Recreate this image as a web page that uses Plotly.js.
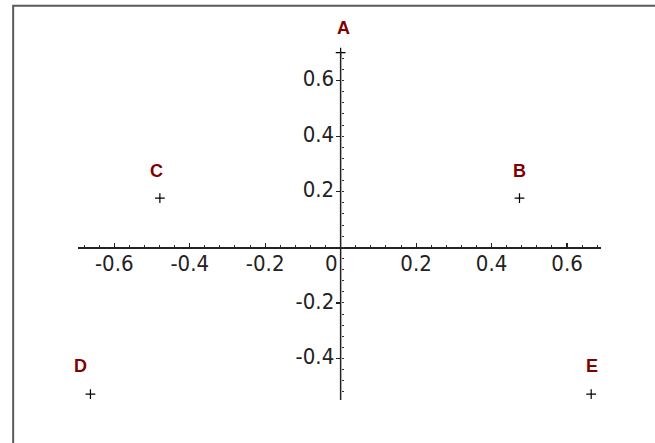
<!DOCTYPE html>
<html>
<head>
<meta charset="utf-8">
<script src="https://cdn.plot.ly/plotly-3.0.1.min.js"></script>
<style>html,body{margin:0;padding:0;background:#fff;}#chart{width:655px;height:443px;}</style>
</head>
<body>
<div id="chart"></div>
<script>
// Point names and positions
const pointNames = ['A', 'B', 'C', 'D', 'E'];
const pointX = [0, 0.474, -0.479, -0.663, 0.664];
const pointY = [0.70, 0.177, 0.177, -0.528, -0.528];
// Where each name label sits
const labelX = [0.007, 0.474, -0.487, -0.69, 0.667];
const labelY = [0.788, 0.276, 0.276, -0.426, -0.426];
// Axis ticks
const xTickVals = [-0.6, -0.4, -0.2, 0, 0.2, 0.4, 0.6];
const xTickText = ['-0.6', '-0.4', '-0.2', '0\u00a0\u00a0\u00a0', '0.2', '0.4', '0.6'];
const yTickVals = [-0.4, -0.2, 0.2, 0.4, 0.6];
const yTickText = ['-0.4', '-0.2', '0.2', '0.4', '0.6'];
const minorStep = 0.04;
// Extent of the drawn axes
const xAxisExtent = [-0.696, 0.690];
const yAxisExtent = [-0.549, 0.704];
// Plot view (leaves room for the top label)
const xRange = [-0.696, 0.690];
const yRange = [-0.549, 0.85];

function minorTicks(extent) {
  const out = [];
  const start = Math.ceil(extent[0] / minorStep - 1e-9);
  const end = Math.floor(extent[1] / minorStep + 1e-9);
  for (let k = start; k <= end; k++) out.push(+(k * minorStep).toFixed(4));
  return out;
}

const tickFont = {family: '"Liberation Sans Narrow", "DejaVu Sans Condensed", "Arial Narrow", sans-serif', size: 22, color: '#222'};
const nameFont = {family: '"Liberation Sans", Arial, sans-serif', size: 18, color: '#800000', weight: 'bold'};

const traces = [
  {
    type: 'scatter', mode: 'markers',
    x: pointX, y: pointY,
    marker: {symbol: 'cross-thin', size: 7, color: '#000', line: {color: '#000', width: 1.2}},
    cliponaxis: false, hoverinfo: 'skip', showlegend: false
  }
];

const annotations = pointNames.map((name, i) => ({
  x: labelX[i], y: labelY[i], xref: 'x', yref: 'y',
  text: '<b>' + name + '</b>', showarrow: false,
  xanchor: 'center', yanchor: 'middle', font: nameFont
}));

const xPos = (0 - yRange[0]) / (yRange[1] - yRange[0]);
const yPos = (0 - xRange[0]) / (xRange[1] - xRange[0]);

// plot area: 278 px per y unit
const pxPerY = 278;
const plotBottom = 400;
const topMargin = plotBottom - (yRange[1] - yRange[0]) * pxPerY;

const layout = {
  width: 655, height: 443,
  margin: {l: 78.3, r: 54, t: topMargin, b: 443 - plotBottom, pad: 0},
  paper_bgcolor: '#fff', plot_bgcolor: 'rgba(0,0,0,0)',
  showlegend: false,
  xaxis: {
    range: xRange, anchor: 'free', position: xPos, side: 'bottom',
    showgrid: false, zeroline: false, showline: true, linecolor: '#222', linewidth: 1.5,
    tickmode: 'array', tickvals: xTickVals, ticktext: xTickText,
    ticks: 'inside', ticklen: 4, tickwidth: 1.2, tickcolor: '#222',
    minor: {tickmode: 'array', tickvals: minorTicks(xAxisExtent), ticks: 'inside', ticklen: 2, tickwidth: 1, tickcolor: '#333', showgrid: false},
    tickfont: tickFont, ticklabelstandoff: -4, fixedrange: true
  },
  yaxis: {
    range: yRange, anchor: 'free', position: yPos, side: 'left',
    showgrid: false, zeroline: false, showline: false,
    tickmode: 'array', tickvals: yTickVals, ticktext: yTickText,
    ticks: 'outside', ticklen: 5, tickwidth: 1.2, tickcolor: '#222',
    minor: {tickmode: 'array', tickvals: minorTicks(yAxisExtent), ticks: 'inside', ticklen: 2, tickwidth: 1, tickcolor: '#333', showgrid: false},
    tickfont: tickFont, ticklabelstandoff: -3, ticklabelshift: -2, fixedrange: true
  },
  annotations: annotations,
  shapes: [
    {type: 'line', xref: 'x', yref: 'y', x0: 0, x1: 0, y0: yAxisExtent[0], y1: yAxisExtent[1],
     line: {color: '#222', width: 1.5}},
    {type: 'path', xref: 'paper', yref: 'paper',
     path: 'M -0.1238 -0.3 L -0.1238 1.5 L 1.5 1.5',
     line: {color: '#5a5a5a', width: 2}}
  ]
};
// frame border: left edge at pixel 13.5, top edge at pixel 5.8
(function () {
  const plotW = 655 - 78.3 - 54;
  const plotH = plotBottom - topMargin;
  const fx = (13.5 - 78.3) / plotW;
  const fy = (plotBottom - 5.8) / plotH;
  layout.shapes[1].path = 'M ' + fx + ' -0.3 L ' + fx + ' ' + fy + ' L 1.5 ' + fy;
})();

Plotly.newPlot('chart', traces, layout, {staticPlot: true, displayModeBar: false});
</script>
</body>
</html>
